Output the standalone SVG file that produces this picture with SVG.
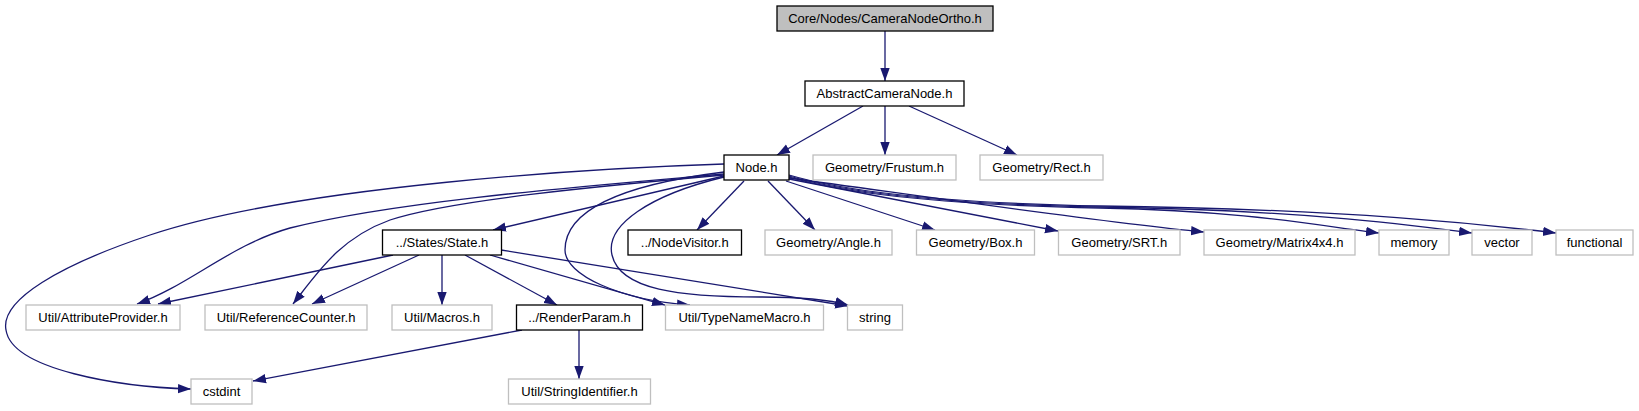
<svg xmlns="http://www.w3.org/2000/svg" width="1639" height="411" viewBox="0 0 1639 411">
<style>
.n rect{fill:#ffffff;stroke:#bfbfbf;stroke-width:1.3}
.n.k rect{stroke:#000000}
.n.r rect{fill:#bfbfbf;stroke:#000000}
.n text{font-family:"Liberation Sans",Arial,Helvetica,sans-serif;font-size:13px;fill:#000000;text-anchor:middle}
#edges path{fill:none;stroke:#191970;stroke-width:1.3;marker-end:url(#ah)}
</style>
<defs>
<marker id="ah" markerWidth="14" markerHeight="11" refX="13" refY="5.5" orient="auto" markerUnits="userSpaceOnUse">
<path d="M0,0.8 L13,5.5 L0,10.2 Z" fill="#191970"/>
</marker>
</defs>
<rect x="0" y="0" width="1639" height="411" fill="#ffffff"/>
<g id="edges">
<path d="M885,31 L885,81"/>
<path d="M863,106 L777,155"/>
<path d="M885,106 L885,155"/>
<path d="M909,106 L1017,155"/>
<path d="M724,176 L493,230"/>
<path d="M744,181 L697,230"/>
<path d="M768,181 L815,230"/>
<path d="M786,181 L935,230"/>
<path d="M789,179 L1058,231"/>
<path d="M789,178 C950,200 1100,222 1204,232"/>
<path d="M789,177 C850,195 950,205 1100,208 C1250,211 1320,226 1379,233"/>
<path d="M789,176 C850,194 950,204 1100,207 C1300,210 1410,225 1472,233"/>
<path d="M789,175 C850,193 950,203 1100,206 C1350,209 1490,225 1556,233"/>
<path d="M724,164 C600,168 300,185 150,235 C60,265 0,300 6,330 C12,370 120,387 191,389"/>
<path d="M724,174 C600,185 400,200 290,228 C230,245 190,285 137,304"/>
<path d="M724,175 C600,186 450,200 390,220 C340,238 318,272 293,304"/>
<path d="M724,172 C620,185 565,210 565,250 C565,275 620,300 690,305"/>
<path d="M724,177 C650,195 605,225 612,255 C620,290 680,297 760,297 C800,297 830,300 848,305"/>
<path d="M393,255 L158,304"/>
<path d="M419,255 L312,304"/>
<path d="M442,255 L442,305"/>
<path d="M465,255 L557,305"/>
<path d="M490,255 L665,305"/>
<path d="M501,250 L848,306"/>
<path d="M522,330 L253,381"/>
<path d="M579,330 L579,379"/>
</g>
<g id="node_CameraNodeOrtho" class="n r"><rect x="777" y="6" width="216" height="25"/><text x="885" y="23">Core/Nodes/CameraNodeOrtho.h</text></g>
<g id="node_AbstractCameraNode" class="n k"><rect x="805" y="81" width="159" height="25"/><text x="884.5" y="98">AbstractCameraNode.h</text></g>
<g id="node_Node" class="n k"><rect x="724" y="155" width="65" height="25"/><text x="756.5" y="172">Node.h</text></g>
<g id="node_Frustum" class="n"><rect x="813" y="155" width="143" height="25"/><text x="884.5" y="172">Geometry/Frustum.h</text></g>
<g id="node_Rect" class="n"><rect x="980" y="155" width="123" height="25"/><text x="1041.5" y="172">Geometry/Rect.h</text></g>
<g id="node_State" class="n k"><rect x="382.5" y="230" width="119" height="25"/><text x="442" y="247">../States/State.h</text></g>
<g id="node_NodeVisitor" class="n k"><rect x="628" y="230" width="113.5" height="25"/><text x="684.75" y="247">../NodeVisitor.h</text></g>
<g id="node_Angle" class="n"><rect x="765" y="230" width="127" height="25"/><text x="828.5" y="247">Geometry/Angle.h</text></g>
<g id="node_Box" class="n"><rect x="916.5" y="230" width="118" height="25"/><text x="975.5" y="247">Geometry/Box.h</text></g>
<g id="node_SRT" class="n"><rect x="1058.5" y="230" width="121.5" height="25"/><text x="1119.25" y="247">Geometry/SRT.h</text></g>
<g id="node_Matrix4x4" class="n"><rect x="1204" y="230" width="151" height="25"/><text x="1279.5" y="247">Geometry/Matrix4x4.h</text></g>
<g id="node_memory" class="n"><rect x="1379" y="230" width="70" height="25"/><text x="1414" y="247">memory</text></g>
<g id="node_vector" class="n"><rect x="1472" y="230" width="60" height="25"/><text x="1502" y="247">vector</text></g>
<g id="node_functional" class="n"><rect x="1556" y="230" width="77" height="25"/><text x="1594.5" y="247">functional</text></g>
<g id="node_AttributeProvider" class="n"><rect x="26" y="305" width="154" height="25"/><text x="103" y="322">Util/AttributeProvider.h</text></g>
<g id="node_ReferenceCounter" class="n"><rect x="205" y="305" width="162" height="25"/><text x="286" y="322">Util/ReferenceCounter.h</text></g>
<g id="node_Macros" class="n"><rect x="392" y="305" width="100" height="25"/><text x="442" y="322">Util/Macros.h</text></g>
<g id="node_RenderParam" class="n k"><rect x="516.5" y="305" width="126" height="25"/><text x="579.5" y="322">../RenderParam.h</text></g>
<g id="node_TypeNameMacro" class="n"><rect x="665.5" y="305" width="158" height="25"/><text x="744.5" y="322">Util/TypeNameMacro.h</text></g>
<g id="node_string" class="n"><rect x="847.5" y="305" width="55" height="25"/><text x="875" y="322">string</text></g>
<g id="node_cstdint" class="n"><rect x="191" y="379" width="61" height="25"/><text x="221.5" y="396">cstdint</text></g>
<g id="node_StringIdentifier" class="n"><rect x="508.5" y="379" width="142" height="25"/><text x="579.5" y="396">Util/StringIdentifier.h</text></g>
</svg>
